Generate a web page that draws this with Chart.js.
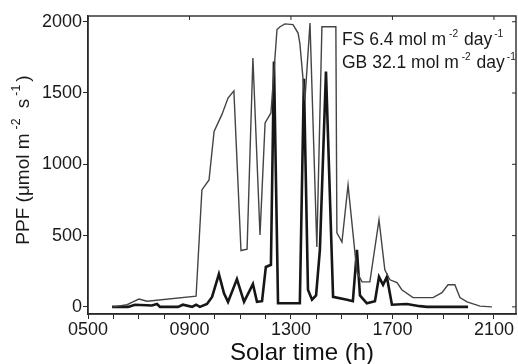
<!DOCTYPE html>
<html lang="en">
<head>
<meta charset="UTF-8">
<title>PPF - solar time</title>
<script src="https://cdn.jsdelivr.net/npm/chart.js"></script>
<style>
  html, body { margin: 0; padding: 0; background: #fff; }
  #wrap { width: 518px; height: 364px; }
</style>
</head>
<body>
<div id="wrap"><canvas id="ppfChart"></canvas></div>
<script>
// GB (thin line)
const gbHours = [6.0, 6.54, 6.77, 7.01, 7.33, 9.26, 9.49, 9.77, 9.97, 10.28, 10.52, 10.75, 11.03, 11.27, 11.50, 11.78, 11.98, 12.21,
  12.45, 12.57, 12.76, 13.08, 13.28, 13.35, 13.55, 13.75, 14.02, 14.22, 14.77, 14.81, 15.01, 15.25, 15.60, 15.80, 16.11,
  16.47, 16.70, 16.90, 17.18, 17.37, 17.81, 18.60, 18.95, 19.19, 19.46, 19.66, 19.94, 20.45, 20.92];
const gbPPF = [0, 15, 35, 55, 40, 75, 820, 890, 1230, 1350, 1465, 1515, 395, 405, 1745, 505, 1290, 1360,
  1945, 1965, 1985, 1980, 1920, 1850, 1450, 1990, 420, 1965, 1965, 520, 455, 855, 245, 175, 175,
  610, 260, 190, 170, 120, 65, 65, 100, 155, 155, 65, 35, 5, 0];

// FS (thick line)
const fsHours = [5.95, 6.58, 6.85, 7.52, 7.72, 7.84, 8.55, 8.74, 9.10, 9.26, 9.41, 9.69, 9.89, 10.16, 10.36, 10.52, 10.87,
  11.15, 11.50, 11.66, 11.86, 12.01, 12.21, 12.33, 12.49, 13.35, 13.51, 13.67, 13.83, 13.99, 14.14, 14.38, 14.66,
  15.21, 15.44, 15.60, 15.72, 15.99, 16.31, 16.47, 16.63, 16.78, 16.98, 17.57, 18.08, 18.36, 19.98];
const fsPPF = [0, 0, 15, 10, 20, 0, 0, 15, 0, 15, 0, 20, 70, 230, 95, 35, 195,
  35, 160, 35, 40, 280, 295, 1720, 25, 25, 1600, 120, 50, 80, 400, 1650, 70,
  50, 40, 400, 80, 25, 40, 210, 155, 210, 15, 20, 5, 0, 0];

const xTickHours = [5, 9, 13, 17, 21];
const xTickLabels = ['0500', '0900', '1300', '1700', '2100'];
const xMinorHours = [5, 6, 7, 8, 9, 10, 11, 12, 13, 14, 15, 16, 17, 18, 19, 20, 21];
const yTicks = [0, 500, 1000, 1500, 2000];

// text pieces: [text, superscript?, gap before]
const yTitle = [['PPF (\u03bcmol m', false, 0], ['-2', true, 4], [' s', false, 5], ['-1', true, 3], [')', false, 3]];
const noteLines = [
  [['FS 6.4 mol m', false, 0], ['-2', true, 3], [' day', false, 1], ['-1', true, 2]],
  [['GB 32.1 mol m', false, 0], ['-2', true, 3], [' day', false, 1], ['-1', true, 2]]
];

const FONT = '"Liberation Sans", Arial, sans-serif';
const INK = '#2a2a2a';

function richWidth(ctx, parts, size, supRatio) {
  let w = 0;
  parts.forEach(([t, sup, gap]) => {
    ctx.font = (sup ? size * supRatio : size) + 'px ' + FONT;
    w += gap + ctx.measureText(t).width;
  });
  return w;
}

function drawRich(ctx, parts, x, y, size, supRatio) {
  let cx = x;
  parts.forEach(([t, sup, gap]) => {
    ctx.font = (sup ? size * supRatio : size) + 'px ' + FONT;
    cx += gap;
    ctx.fillText(t, cx, sup ? y - size * 0.45 : y);
    cx += ctx.measureText(t).width;
  });
}

const framePlugin = {
  id: 'frame',
  afterDraw(chart) {
    const ctx = chart.ctx;
    const a = chart.chartArea;
    const xs = chart.scales.x, ys = chart.scales.y;
    ctx.save();
    ctx.strokeStyle = INK;
    ctx.lineWidth = 1.4;
    ctx.strokeRect(a.left, a.top, a.right - a.left, a.bottom - a.top);
    // small inward ticks on top and right
    ctx.lineWidth = 1;
    ctx.beginPath();
    xTickHours.forEach(h => {
      const px = xs.getPixelForValue(h);
      ctx.moveTo(px, a.top); ctx.lineTo(px, a.top + 4);
    });
    yTicks.forEach(v => {
      const py = ys.getPixelForValue(v);
      ctx.moveTo(a.right, py); ctx.lineTo(a.right - 4, py);
    });
    ctx.stroke();

    ctx.fillStyle = '#1a1a1a';
    ctx.textBaseline = 'alphabetic';
    ctx.textAlign = 'left';
    // annotation
    noteLines.forEach((line, i) => {
      drawRich(ctx, line, 342, 45 + i * 23, 17.5, 0.58);
    });
    // y title, rotated
    const size = 19;
    const w = richWidth(ctx, yTitle, size, 0.65);
    ctx.translate(29, (a.top + a.bottom) / 2 - 5);
    ctx.rotate(-Math.PI / 2);
    drawRich(ctx, yTitle, -w / 2, 0, size, 0.65);
    ctx.restore();
  }
};

new Chart(document.getElementById('ppfChart'), {
  type: 'line',
  data: {
    datasets: [
      {
        label: 'GB',
        data: gbHours.map((h, i) => ({ x: h, y: gbPPF[i] })),
        borderColor: '#444444',
        borderWidth: 1.4,
        pointRadius: 0,
        tension: 0
      },
      {
        label: 'FS',
        data: fsHours.map((h, i) => ({ x: h, y: fsPPF[i] })),
        borderColor: '#161616',
        borderWidth: 2.6,
        pointRadius: 0,
        tension: 0
      }
    ]
  },
  options: {
    responsive: true,
    maintainAspectRatio: false,
    animation: false,
    layout: { padding: { top: 16, right: 2, left: 0, bottom: 0 } },
    plugins: {
      legend: { display: false },
      tooltip: { enabled: false }
    },
    scales: {
      x: {
        type: 'linear',
        min: 5,
        max: 21.87,
        afterBuildTicks: s => { s.ticks = xMinorHours.map(v => ({ value: v })); },
        afterFit: s => { s.height = 50; },
        grid: { drawOnChartArea: false, tickLength: 5, color: INK, tickWidth: 1 },
        border: { color: INK, width: 1.4 },
        ticks: {
          autoSkip: false,
          maxRotation: 0,
          padding: 0,
          color: '#1a1a1a',
          font: { family: FONT, size: 18 },
          callback: v => {
            const i = xTickHours.indexOf(v);
            return i >= 0 ? xTickLabels[i] : '';
          }
        },
        title: {
          display: true,
          text: 'Solar time (h)',
          color: '#111',
          font: { family: FONT, size: 24, lineHeight: 1 },
          padding: { top: 0, bottom: -1 }
        }
      },
      y: {
        min: -50,
        max: 2040,
        afterBuildTicks: s => { s.ticks = yTicks.map(v => ({ value: v })); },
        afterFit: s => { s.width = 88; },
        grid: { drawOnChartArea: false, tickLength: 5, color: INK, tickWidth: 1 },
        border: { color: INK, width: 1.4 },
        ticks: {
          padding: 1,
          color: '#1a1a1a',
          font: { family: FONT, size: 18 },
          callback: v => String(v)
        }
      }
    }
  },
  plugins: [framePlugin]
});
</script>
</body>
</html>
